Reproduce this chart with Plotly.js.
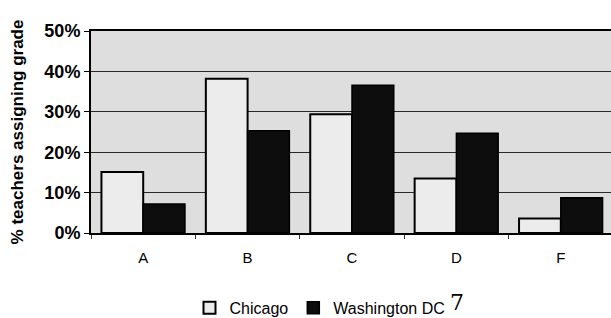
<!DOCTYPE html>
<html>
<head>
<meta charset="utf-8">
<script src="https://cdn.plot.ly/plotly-3.0.1.min.js"></script>
<style>html,body{margin:0;padding:0;overflow:hidden;background:#fff}#chart{width:614px;height:318px}</style>
</head>
<body>
<div id="chart"></div>
<script>
const grades = ["A", "B", "C", "D", "F"];
const chicago = [15.1, 38.2, 29.4, 13.5, 3.6];
const washington = [7.2, 25.3, 36.6, 24.7, 8.7];
const seriesNames = ["Chicago", "Washington DC"];
const yTicks = [0, 10, 20, 30, 40, 50];
const yTickText = ["0%", "10%", "20%", "30%", "40%", "50%"];

const traces = [
  {type: "bar", name: seriesNames[0], x: grades, y: chicago,
   marker: {color: "#ececec", line: {color: "#000", width: 2}}},
  {type: "bar", name: seriesNames[1], x: grades, y: washington,
   marker: {color: "#0d0d0d", line: {color: "#000", width: 1.5}}}
];

const layout = {
  width: 614, height: 318,
  margin: {l: 91, r: 1, t: 31, b: 85, autoexpand: false},
  paper_bgcolor: "#ffffff",
  plot_bgcolor: "#dedede",
  barmode: "group",
  bargap: 0.2,
  bargroupgap: 0,
  showlegend: true,
  legend: {orientation: "h", x: (320 - 91) / 522, xanchor: "center", y: -0.37, yanchor: "middle",
           font: {family: "Liberation Sans, Arial, sans-serif", size: 16, color: "#000"},
           itemwidth: 30, traceorder: "normal", tracegroupgap: 0},
  font: {family: "Liberation Sans, Arial, sans-serif", color: "#000"},
  xaxis: {type: "category", showline: true, linecolor: "#000", linewidth: 2, mirror: true,
          ticks: "outside", tickson: "boundaries", ticklen: 4, tickcolor: "#333",
          ticklabelstandoff: 10,
          tickfont: {size: 15, color: "#000"}, showgrid: false},
  yaxis: {range: [0, 50], tickmode: "array", tickvals: yTicks, ticktext: yTickText,
          showline: true, linecolor: "#000",
          linewidth: 2, ticks: "outside", ticklen: 5, tickcolor: "#000",
          gridcolor: "#2a2a2a", gridwidth: 1, zeroline: false,
          tickfont: {size: 18, color: "#000", weight: "bold"},
          title: {text: "% teachers assigning grade", standoff: 16,
                  font: {size: 17, color: "#000", weight: "bold"}}},
  annotations: [
    {text: "7", xref: "paper", yref: "paper", x: (448 - 91) / 522, y: (233 - 302) / 202,
     xanchor: "left", yanchor: "middle", showarrow: false,
     font: {family: "DejaVu Serif, serif", size: 22, color: "#000"}}
  ]
};

Plotly.newPlot("chart", traces, layout, {displayModeBar: false, staticPlot: true});
</script>
</body>
</html>
